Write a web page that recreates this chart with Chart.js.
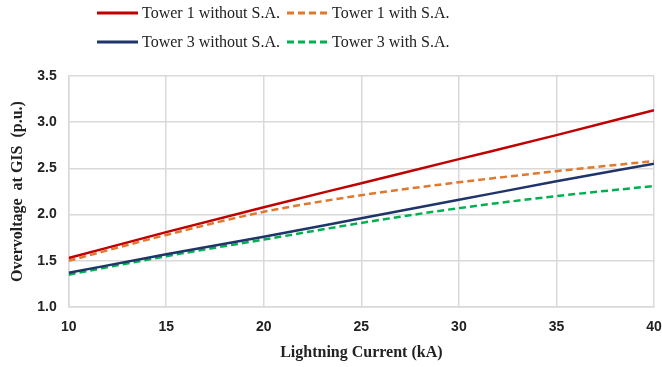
<!DOCTYPE html>
<html>
<head>
<meta charset="utf-8">
<script src="https://cdn.jsdelivr.net/npm/chart.js@4.4.1/dist/chart.umd.min.js"></script>
<style>
  html, body { margin: 0; padding: 0; background: #fff; }
  #wrap { position: relative; width: 662px; height: 367px; }
  #legend {
    position: absolute; left: 97px; top: 2px;
    display: grid; grid-template-columns: 190px 200px; row-gap: 7px;
    font-family: "Liberation Serif", "Times New Roman", serif; font-size: 16px; color: #222;
  }
  .item { display: flex; align-items: center; height: 22px; }
  .item svg { margin-right: 4px; }
</style>
</head>
<body>
<div id="wrap">
  <canvas id="chart" width="662" height="367"></canvas>
  <div id="legend"></div>
</div>
<script>
const currents = [10, 15, 20, 25, 30, 35, 40];
const tower1NoSA = [1.53, 1.81, 2.08, 2.34, 2.60, 2.86, 3.13];
const tower1SA = [1.50, 1.78, 2.03, 2.21, 2.35, 2.47, 2.58];
const tower3NoSA = [1.37, 1.57, 1.76, 1.96, 2.16, 2.36, 2.55];
const tower3SA = [1.35, 1.55, 1.73, 1.91, 2.07, 2.20, 2.31];
const yTicks = [1.0, 1.5, 2.0, 2.5, 3.0, 3.5];

function pts(vals) {
  return currents.map((x, i) => ({ x: x, y: vals[i] }));
}

const datasets = [
  { label: 'Tower 1 without S.A.', data: pts(tower1NoSA), borderColor: '#c00000', dash: [] },
  { label: 'Tower 1 with S.A.', data: pts(tower1SA), borderColor: '#e0782e', dash: [7, 4] },
  { label: 'Tower 3 without S.A.', data: pts(tower3NoSA), borderColor: '#1f3468', dash: [] },
  { label: 'Tower 3 with S.A.', data: pts(tower3SA), borderColor: '#00b050', dash: [7, 4] },
].map(d => ({
  label: d.label,
  data: d.data,
  borderColor: d.borderColor,
  borderDash: d.dash,
  borderWidth: 2.5,
  pointRadius: 0,
  fill: false,
  cubicInterpolationMode: 'monotone',
}));

// legend order in the picture: row1 = Tower 1, row2 = Tower 3
const legend = document.getElementById('legend');
datasets.forEach(ds => {
  const el = document.createElement('div');
  el.className = 'item';
  const dash = ds.borderDash.length ? `stroke-dasharray="${ds.borderDash.join(' ')}"` : '';
  el.innerHTML = `<svg width="41" height="6"><line x1="0" y1="3" x2="41" y2="3" stroke="${ds.borderColor}" stroke-width="3" ${dash}/></svg><span>${ds.label}</span>`;
  legend.appendChild(el);
});

const ctx = document.getElementById('chart').getContext('2d');
new Chart(ctx, {
  type: 'line',
  data: { datasets: datasets },
  options: {
    responsive: false,
    animation: false,
    layout: { padding: { top: 76, right: 1, bottom: 5, left: 8 } },
    plugins: { legend: { display: false }, tooltip: { enabled: false } },
    scales: {
      x: {
        type: 'linear', min: 10, max: 40,
        afterFit: a => { a.paddingRight = 8; a.height = 55; },
        ticks: { stepSize: 5, maxRotation: 0, minRotation: 0, color: '#222',
          font: { family: 'Liberation Sans', size: 14, weight: 'bold' }, padding: 12 },
        grid: { color: '#d9d9d9', lineWidth: 1.5, tickLength: 0 },
        border: { color: '#d9d9d9', width: 1.5 },
        title: { display: true, text: 'Lightning Current (kA)', color: '#222',
          font: { family: 'Liberation Serif', size: 16, weight: 'bold' }, padding: { top: 4, bottom: 0 } },
      },
      y: {
        min: 1, max: 3.5,
        afterBuildTicks: axis => { axis.ticks = yTicks.map(v => ({ value: v })); },
        afterFit: a => { a.width = a.width - 6; },
        ticks: { color: '#222', font: { family: 'Liberation Sans', size: 14, weight: 'bold' }, padding: 12,
          callback: v => Number(v).toFixed(1) },
        grid: { color: '#d9d9d9', lineWidth: 1.5, tickLength: 0 },
        border: { color: '#d9d9d9', width: 1.5 },
        title: { display: true, text: 'Overvoltage  at GIS  (p.u.)', color: '#222',
          font: { family: 'Liberation Serif', size: 16, weight: 'bold' }, padding: { top: 0, bottom: 4 } },
      },
    },
  },
});
</script>
</body>
</html>
